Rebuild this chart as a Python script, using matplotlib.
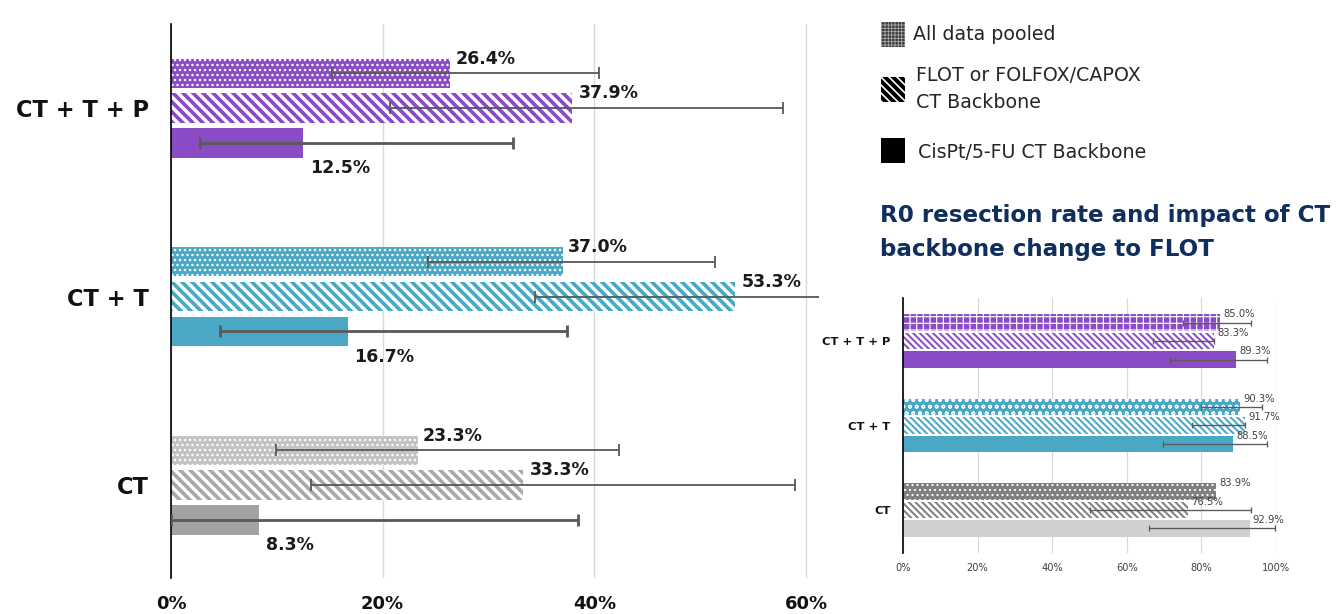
import matplotlib
matplotlib.use("Agg")
import matplotlib.pyplot as plt
from matplotlib.patches import Rectangle

plt.rcParams['font.family'] = ['DejaVu Sans']

DPI = 120
W, H = 1337, 614

# Groups listed bottom to top
groups = ["CT", "CT + T", "CT + T + P"]
x_ticks_pcr = [0, 20, 40, 60]
x_tick_labels_pcr = ["0%", "20%", "40%", "60%"]
x_ticks_r0 = [0, 20, 40, 60, 80, 100]
x_tick_labels_r0 = ["0%", "20%", "40%", "60%", "80%", "100%"]

# pCR rate (%) per group: CT, CT + T, CT + T + P
pcr_pooled = [23.3, 37.0, 26.4]
pcr_flot = [33.3, 53.3, 37.9]
pcr_cispt = [8.3, 16.7, 12.5]
# 95% CI bounds (%)
pcr_pooled_lo = [9.9, 24.3, 15.2]
pcr_pooled_hi = [42.3, 51.4, 40.4]
pcr_flot_lo = [13.2, 34.4, 20.7]
pcr_flot_hi = [59.0, 70.0, 57.8]
pcr_cispt_lo = [0.0, 4.6, 2.7]
pcr_cispt_hi = [38.5, 37.4, 32.3]

# R0 resection rate (%) per group: CT, CT + T, CT + T + P
r0_pooled = [83.9, 90.3, 85.0]
r0_flot = [76.5, 91.7, 83.3]
r0_cispt = [92.9, 88.5, 89.3]
r0_pooled_lo = [83.9, 79.9, 75.2]
r0_pooled_hi = [83.9, 96.2, 93.3]
r0_flot_lo = [50.0, 77.4, 67.1]
r0_flot_hi = [93.2, 91.7, 83.3]
r0_cispt_lo = [66.0, 69.8, 71.6]
r0_cispt_hi = [99.7, 97.5, 97.5]

legend_labels = ["All data pooled", "FLOT or FOLFOX/CAPOX\nCT Backbone", "CisPt/5-FU CT Backbone"]
subtitle_lines = ["R0 resection rate and impact of CT", "backbone change to FLOT"]

PURPLE = "#8A4BC4"
TEAL = "#4AA8C4"
NAVY = "#102E5E"
ERR = "#5A5A5A"
GRID = "#D9D9D9"

fig = plt.figure(figsize=(W / DPI, H / DPI), dpi=DPI)
fig.patch.set_facecolor("white")


def fx(px):
    return px / W


def fy(py):
    return 1 - py / H


def hbars(ax, ys, vals, face, edge, hatch, height, hatch_lw):
    with plt.rc_context({'hatch.linewidth': hatch_lw}):
        bars = ax.barh(ys, vals, height=height, color=face, edgecolor=edge,
                       hatch=hatch, linewidth=0, zorder=2)
    for b in bars:
        if hasattr(b, "set_hatch_linewidth"):
            b.set_hatch_linewidth(hatch_lw)
    return bars


def ci_bars(ax, ys, vals, lo, hi, lw, capsize):
    for y, v, l, h in zip(ys, vals, lo, hi):
        if h - l <= 0:
            continue
        ax.errorbar([v], [y], xerr=[[v - l], [h - v]], fmt='none', ecolor=ERR,
                    elinewidth=lw, capsize=capsize, capthick=lw, zorder=3)


# ---------------- Left: pCR ----------------
axL = fig.add_axes([fx(171), fy(578), fx(818.7) - fx(171), fy(24) - fy(578)])
pos = list(range(len(groups)))
step = 0.185
hL = 0.155
pooled_L = ["#C2C2C2", TEAL, PURPLE]
flot_L = ["#A8A8A8", TEAL, PURPLE]
cispt_L = ["#A3A3A3", TEAL, PURPLE]
STRIPE_L = "\\" * 4
STRIPE_R = "\\" * 6
for i in pos:
    hbars(axL, [i + step], [pcr_pooled[i]], pooled_L[i], "white", "....", hL, 0.9)
    hbars(axL, [i], [pcr_flot[i]], "white", flot_L[i], STRIPE_L, hL, 2.2)
    hbars(axL, [i - step], [pcr_cispt[i]], cispt_L[i], cispt_L[i], None, hL, 1.0)

ys_p = [i + step for i in pos]
ys_f = [i for i in pos]
ys_c = [i - step for i in pos]
ci_bars(axL, ys_p, pcr_pooled, pcr_pooled_lo, pcr_pooled_hi, 1.1, 3.5)
ci_bars(axL, ys_f, pcr_flot, pcr_flot_lo, pcr_flot_hi, 1.1, 3.5)
ci_bars(axL, ys_c, pcr_cispt, pcr_cispt_lo, pcr_cispt_hi, 1.7, 3.5)

lab_kw = dict(fontsize=10.4, fontweight='bold', color="#1A1A1A")
for i in pos:
    axL.annotate(f"{pcr_pooled[i]:.1f}%", (pcr_pooled[i], ys_p[i] + hL / 2),
                 xytext=(3, 0), textcoords='offset points', ha='left', va='center', **lab_kw)
    axL.annotate(f"{pcr_flot[i]:.1f}%", (pcr_flot[i], ys_f[i] + hL / 2),
                 xytext=(4, 0), textcoords='offset points', ha='left', va='center', **lab_kw)
    axL.annotate(f"{pcr_cispt[i]:.1f}%", (pcr_cispt[i], ys_c[i] - hL / 2),
                 xytext=(4, -1), textcoords='offset points', ha='left', va='top', **lab_kw)

axL.set_xlim(0, 61.2)
axL.set_ylim(-0.493, 2.446)
axL.set_xticks(x_ticks_pcr, x_tick_labels_pcr, fontsize=10.8, fontweight='bold')
axL.set_yticks(pos, groups, fontsize=13.5, fontweight='bold')
axL.tick_params(axis='both', length=0, colors="#111111")
axL.tick_params(axis='x', pad=10)
axL.tick_params(axis='y', pad=13.5)
for s in ["top", "right", "bottom"]:
    axL.spines[s].set_visible(False)
axL.spines["left"].set_color("black")
axL.spines["left"].set_linewidth(1.0)
axL.set_axisbelow(True)
axL.grid(axis='x', color=GRID, linewidth=0.8)
axL.set_facecolor("none")

# ---------------- Right: R0 resection ----------------
axR = fig.add_axes([fx(903), fy(553), fx(1276) - fx(903), fy(298) - fy(553)])
stepR = 0.219
hR = 0.19
pooled_style = [("#7F7F7F", "white", "...."), (TEAL, "white", "ooo"), (PURPLE, "white", "+++")]
flot_R = ["#7F7F7F", TEAL, PURPLE]
cispt_R = ["#D0D0D0", TEAL, PURPLE]
for i in pos:
    face, edge, hatch = pooled_style[i]
    hbars(axR, [i + stepR], [r0_pooled[i]], face, edge, hatch, hR, 0.7)
    hbars(axR, [i], [r0_flot[i]], "white", flot_R[i], STRIPE_R, hR, 1.2)
    hbars(axR, [i - stepR], [r0_cispt[i]], cispt_R[i], cispt_R[i], None, hR, 0.8)

ysR_p = [i + stepR for i in pos]
ysR_f = [i for i in pos]
ysR_c = [i - stepR for i in pos]
ci_bars(axR, ysR_p, r0_pooled, r0_pooled_lo, r0_pooled_hi, 0.8, 2)
ci_bars(axR, ysR_f, r0_flot, r0_flot_lo, r0_flot_hi, 0.8, 2)
ci_bars(axR, ysR_c, r0_cispt, r0_cispt_lo, r0_cispt_hi, 0.8, 2)

labR = dict(fontsize=6.0, color="#404040")
for ys, vals in ((ysR_p, r0_pooled), (ysR_f, r0_flot), (ysR_c, r0_cispt)):
    for y, v in zip(ys, vals):
        axR.annotate(f"{v:.1f}%", (v, y + hR / 2), xytext=(2, 0), textcoords='offset points',
                     ha='left', va='center', **labR)

axR.set_xlim(0, 100)
axR.set_ylim(-0.509, 2.509)
axR.set_xticks(x_ticks_r0, x_tick_labels_r0, fontsize=5.9, color="#404040")
axR.set_yticks(pos, groups, fontsize=6.9, fontweight='bold')
axR.tick_params(axis='both', length=0)
axR.tick_params(axis='x', pad=6)
axR.tick_params(axis='y', pad=7.5, colors="#111111")
for s in ["top", "right", "bottom"]:
    axR.spines[s].set_visible(False)
axR.spines["left"].set_color("black")
axR.spines["left"].set_linewidth(1.0)
axR.set_axisbelow(True)
axR.grid(axis='x', color=GRID, linewidth=0.7)
axR.set_facecolor("none")

# ---------------- Legend ----------------
icon_w, icon_h = 24, 25
icons = [
    dict(y=22, face="#3C3C3C", edge="#A8A8A8", hatch="++++++", hlw=0.5),
    dict(y=77, face="white", edge="black", hatch="\\" * 5, hlw=2.4),
    dict(y=138, face="black", edge="black", hatch=None, hlw=1.0),
]
for ic in icons:
    with plt.rc_context({'hatch.linewidth': ic["hlw"]}):
        r = Rectangle((fx(881), fy(ic["y"] + icon_h)), fx(icon_w), icon_h / H,
                      transform=fig.transFigure, facecolor=ic["face"], edgecolor=ic["edge"],
                      hatch=ic["hatch"], linewidth=0)
    if hasattr(r, "set_hatch_linewidth"):
        r.set_hatch_linewidth(ic["hlw"])
    fig.add_artist(r)

leg_kw = dict(fontsize=11.4, color="#262626", ha='left', va='center')
fig.text(fx(913), fy(34), legend_labels[0], **leg_kw)
fig.text(fx(916), fy(89), legend_labels[1], linespacing=1.5, **leg_kw)
fig.text(fx(918), fy(153), legend_labels[2], **leg_kw)

sub_kw = dict(fontsize=13.8, fontweight='bold', color=NAVY, ha='left', va='baseline')
fig.text(fx(880), fy(222), subtitle_lines[0], **sub_kw)
fig.text(fx(880), fy(256), subtitle_lines[1], **sub_kw)

fig.savefig("out.png", dpi=DPI, facecolor="white")
